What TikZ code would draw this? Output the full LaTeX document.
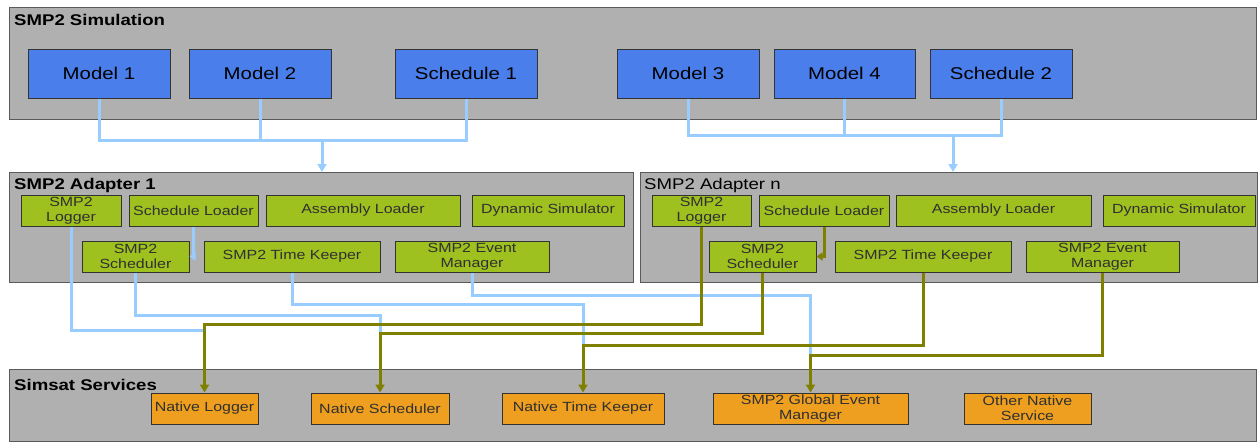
\documentclass[tikz,border=0pt]{standalone}
\usepackage{fontspec}
\setmainfont{Liberation Sans}[FakeStretch=1.2]
\usetikzlibrary{arrows.meta}
\definecolor{greybg}{HTML}{B0B0B0}
\definecolor{greyline}{HTML}{5A5A5A}
\definecolor{bluebox}{HTML}{4A7EEA}
\definecolor{greenbox}{HTML}{9FC11F}
\definecolor{orangebox}{HTML}{EE9F1F}
\definecolor{lightblue}{HTML}{99CCFF}
\definecolor{olivel}{HTML}{808000}
\definecolor{txtgrey}{HTML}{303030}
\tikzset{
  panel/.style={draw=greyline, line width=1.2pt, fill=greybg, anchor=north west, inner sep=0pt},
  paneltitle/.style={anchor=west, inner sep=0pt, font=\fontsize{15.5}{18}\selectfont\bfseries},
  modelbox/.style={draw=black!80, line width=1pt, fill=bluebox, inner sep=0pt, minimum height=49pt, font=\fontsize{17}{20}\selectfont},
  compbox/.style={draw=black!80, line width=1pt, fill=greenbox, inner sep=0pt, minimum height=31pt, align=center, text=txtgrey, font=\fontsize{13.3}{15}\selectfont},
  svcbox/.style={draw=black!80, line width=1pt, fill=orangebox, inner sep=0pt, minimum height=31pt, align=center, text=txtgrey, font=\fontsize{13.3}{15}\selectfont},
  blueline/.style={draw=lightblue, line width=3pt},
  oliveline/.style={draw=olivel, line width=3pt},
  tip/.style={-{Triangle[width=9pt,length=8pt]}}
}
\begin{document}
\begin{tikzpicture}[x=1pt,y=-1pt]
\useasboundingbox (0,0) rectangle (1259,442);
% panels
\node[panel, minimum width=1247pt, minimum height=112pt] (sim) at (9,7) {};
\node[paneltitle] (simt) at (14,20) {SMP2 Simulation};
\node[panel, minimum width=624pt, minimum height=110pt] (ad1) at (9,172) {};
\node[paneltitle] (ad1t) at (14,185) {SMP2 Adapter 1};
\node[panel, minimum width=617pt, minimum height=110pt] (adn) at (640,172) {};
\node[paneltitle, font=\fontsize{15.5}{18}\selectfont] (adnt) at (644,185) {SMP2 Adapter n};
\node[panel, minimum width=1247pt, minimum height=72pt] (sim2) at (9,369) {};
\node[paneltitle] (sst) at (14,385) {Simsat Services};
% models
\node[modelbox, minimum width=142pt] (m1) at (99,73.5) {Model 1};
\node[modelbox, minimum width=142pt] (m2) at (260,73.5) {Model 2};
\node[modelbox, minimum width=142pt] (s1) at (466,73.5) {Schedule 1};
\node[modelbox, minimum width=142pt] (m3) at (688,73.5) {Model 3};
\node[modelbox, minimum width=141pt] (m4) at (844.5,73.5) {Model 4};
\node[modelbox, minimum width=142pt] (s2) at (1001,73.5) {Schedule 2};
% adapter 1
\node[compbox, minimum width=100pt] (a1log) at (71,210.5) {SMP2\\Logger};
\node[compbox, minimum width=129pt] (a1sl) at (193.5,210.5) {Schedule Loader};
\node[compbox, minimum width=194pt] (a1al) at (363,210.5) {Assembly Loader};
\node[compbox, minimum width=152pt] (a1ds) at (548,210.5) {Dynamic Simulator};
\node[compbox, minimum width=107pt] (a1sch) at (135.5,256.5) {SMP2\\Scheduler};
\node[compbox, minimum width=176pt] (a1tk) at (292,256.5) {SMP2 Time Keeper};
\node[compbox, minimum width=154pt] (a1em) at (472,256.5) {SMP2 Event\\Manager};
% adapter n
\node[compbox, minimum width=99pt] (anlog) at (701.5,210.5) {SMP2\\Logger};
\node[compbox, minimum width=130pt] (ansl) at (824,210.5) {Schedule Loader};
\node[compbox, minimum width=195pt] (anal) at (993.5,210.5) {Assembly Loader};
\node[compbox, minimum width=152pt] (ands) at (1179,210.5) {Dynamic Simulator};
\node[compbox, minimum width=107pt] (ansch) at (762.5,256.5) {SMP2\\Scheduler};
\node[compbox, minimum width=176pt] (antk) at (923,256.5) {SMP2 Time Keeper};
\node[compbox, minimum width=153pt] (anem) at (1102.5,256.5) {SMP2 Event\\Manager};
% services
\node[svcbox, minimum width=107pt] (nlog) at (204.5,408.5) {Native Logger};
\node[svcbox, minimum width=138pt] (nsch) at (380,408.5) {Native Scheduler};
\node[svcbox, minimum width=162pt] (ntk) at (583,408.5) {Native Time Keeper};
\node[svcbox, minimum width=195pt] (gem) at (810.5,408.5) {SMP2 Global Event\\Manager};
\node[svcbox, minimum width=127pt] (ons) at (1027.5,408.5) {Other Native\\Service};
% coordinates
\coordinate (jl) at (322,140);
\coordinate (jr) at (953,135);
\coordinate (yb1) at (0,330);
\coordinate (yb2) at (0,315);
\coordinate (yb3) at (0,304);
\coordinate (yb4) at (0,295);
\coordinate (yo1) at (0,324);
\coordinate (yo2) at (0,333);
\coordinate (yo3) at (0,345);
\coordinate (yo4) at (0,355);
% top connectors
\draw[blueline] (m1.south) |- (s1.south |- jl) -- (s1.south);
\draw[blueline] (m2.south) -- (m2.south |- jl);
\draw[blueline, tip] (jl) -- (jl |- ad1.north);
\draw[blueline] (m3.south) |- (s2.south |- jr) -- (s2.south);
\draw[blueline] (m4.south) -- (m4.south |- jr);
\draw[blueline, tip] (jr) -- (jr |- adn.north);
% schedule loader -> scheduler
\draw[blueline, -{Triangle[width=8pt,length=6pt]}] (a1sl.south) |- (a1sch.east);
\draw[oliveline, -{Triangle[width=8pt,length=6pt]}] (ansl.south) |- (ansch.east);
% blue lines from adapter 1
\draw[blueline] (a1log.south) |- (nlog.north |- yb1);
\draw[blueline] (a1sch.south) |- (nsch.north |- yb2) -- (nsch.north |- yo2);
\draw[blueline] (a1tk.south) |- (ntk.north |- yb3) -- (ntk.north |- yo3);
\draw[blueline] (a1em.south) |- (gem.north |- yb4) -- (gem.north |- yo4);
% olive lines from adapter n
\draw[oliveline, tip] (anlog.south) |- (nlog.north |- yo1) -- (nlog.north);
\draw[oliveline, tip] (ansch.south) |- (nsch.north |- yo2) -- (nsch.north);
\draw[oliveline, tip] (antk.south) |- (ntk.north |- yo3) -- (ntk.north);
\draw[oliveline, tip] (anem.south) |- (gem.north |- yo4) -- (gem.north);
\end{tikzpicture}
\end{document}
